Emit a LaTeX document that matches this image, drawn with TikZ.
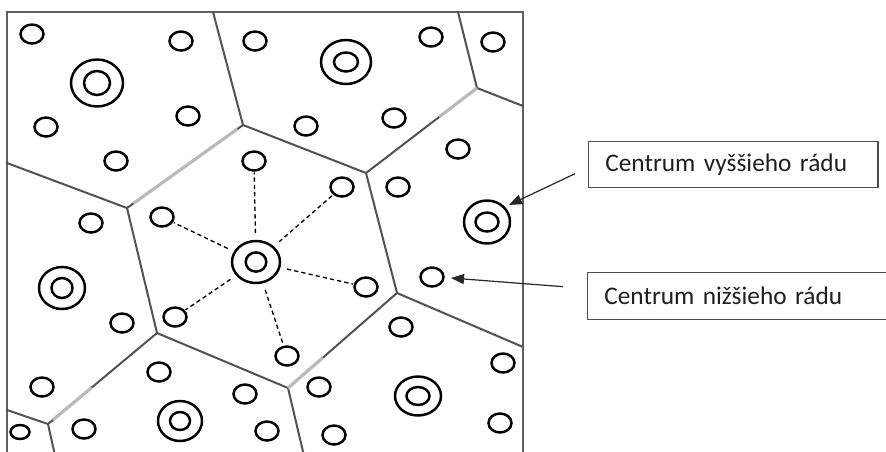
\documentclass[tikz,border=0pt]{standalone}
\usepackage{fontspec}
\setmainfont{Carlito}
\usetikzlibrary{shapes.geometric, arrows.meta, calc}

% a centre of higher order: two concentric rings
% #1 name, #2 position, #3/#4 outer radii, #5/#6 inner radii (px)
\newcommand\DoubleRing[6]{%
  \node[ring, minimum width=#3*1.5pt, minimum height=#4*1.5pt] (#1) at (#2) {};
  \node[ring, minimum width=#5*1.5pt, minimum height=#6*1.5pt] (#1-in) at (#2) {};}

\begin{document}
\begin{tikzpicture}[x=0.75pt, y=-0.75pt,
  ring/.style={ellipse, draw=black, line width=1.85pt, inner sep=0pt, outer sep=0pt},
  dot/.style={ring, minimum width=23*0.75pt, minimum height=19*0.75pt},
  cell/.style={draw=black!68, line width=1.5pt, line cap=round},
  faded/.style={draw=black!27, line width=2.4pt},
  spoke/.style={draw=black, line width=1pt, dash pattern=on 3.2pt off 2.3pt,
    shorten <=6pt, shorten >=1.5pt},
  frame/.style={draw=black!62, line width=1.6pt},
  label/.style={draw=black!70, line width=1pt, anchor=north west, inner xsep=12.5pt,
    inner ysep=0pt, align=left, font=\fontsize{19}{22}\selectfont, text=black!88},
  pointer/.style={draw=black!85, line width=0.9pt,
    -{Triangle[length=9.75pt, width=7.5pt]}}]

\useasboundingbox (0,0) rectangle (886,451);
\clip (0,0) rectangle (886,451);
\fill[white] (0,0) rectangle (886,451);

% outer frame
\draw[frame] (7,12) rectangle (523,470);

% cell boundaries
\coordinate (A) at (243,125);
\coordinate (B) at (366,173);
\coordinate (C) at (127,208);
\coordinate (D) at (157,333);
\coordinate (E) at (288,388);
\coordinate (F) at (48,424);
\coordinate (G) at (397,293);
\coordinate (H) at (477,88);
\coordinate (At) at (213,12);
\coordinate (Cl) at (7,163);
\coordinate (Fl) at (7,410);
\coordinate (Fb) at (56,460);
\coordinate (Eb) at (305,460);
\coordinate (Gr) at (523,347);
\coordinate (Ht) at (458,12);
\coordinate (Hr) at (523,106);

\draw[cell] (At) -- (A) -- (B) -- (G) -- (Gr);
\draw[cell] (Ht) -- (H) -- (Hr);
\draw[cell] (Cl) -- (C) -- (D) -- (E) -- (Eb);
\draw[cell] (Fl) -- (F) -- (Fb);
% partly faded edges
\draw[cell] (A) -- ($(A)!0.05!(C)$);
\draw[faded] ($(A)!0.05!(C)$) -- ($(A)!0.95!(C)$);
\draw[cell] ($(A)!0.95!(C)$) -- (C);
\draw[cell] (B) -- ($(B)!0.66!(H)$);
\draw[faded] ($(B)!0.66!(H)$) -- (H);
\draw[cell] (G) -- ($(G)!0.68!(E)$);
\draw[faded] ($(G)!0.68!(E)$) -- (E);
\draw[cell] (D) -- ($(D)!0.6!(F)$);
\draw[faded] ($(D)!0.6!(F)$) -- ($(D)!0.96!(F)$);
\draw[cell] ($(D)!0.96!(F)$) -- (F);

% centres of higher order
\DoubleRing{big1}{97,83}{26}{23.5}{13}{12}
\DoubleRing{big2}{346,62}{25}{22}{12}{9.5}
\DoubleRing{big3}{487,222}{23}{21.5}{11.5}{9.5}
\DoubleRing{big4}{62,288}{23}{21}{10.5}{10}
\DoubleRing{hub}{256,262}{24}{21}{10.3}{9.6}
\DoubleRing{big5}{180,421}{22}{20}{10}{9}
\DoubleRing{big6}{418,396}{23}{19.5}{11.5}{9}

% centres of lower order
\node[dot] (c1) at (32,34) {};
\node[dot] (c2) at (181,41) {};
\node[dot] (c3) at (255,41) {};
\node[dot] (c4) at (431,37) {};
\node[dot] (c5) at (493,42) {};
\node[dot] (c6) at (46,127) {};
\node[dot] (c7) at (188,116) {};
\node[dot] (c8) at (306,126) {};
\node[dot] (c9) at (394,118) {};
\node[dot] (c10) at (116,161) {};
\node[dot] (c11) at (458,149) {};
\node[dot] (c12) at (398,187) {};
\node[dot] (c13) at (91,223) {};
\node[dot] (c14) at (432,277) {};
\node[dot] (c15) at (122,323) {};
\node[dot] (c16) at (401,327) {};
\node[dot] (c17) at (159,372) {};
\node[dot] (c18) at (42,387) {};
\node[dot] (c19) at (245,394) {};
\node[dot] (c20) at (319,387) {};
\node[dot] (c21) at (503,363) {};
\node[ring, minimum width=19*0.75pt, minimum height=14*0.75pt] (c22) at (20,432) {};
\node[dot] (c23) at (84,429) {};
\node[dot] (c24) at (267,431) {};
\node[dot] (c25) at (334,435) {};
\node[dot] (c26) at (500,423) {};

% satellites of the central place
\node[dot] (s1) at (254,161) {};
\node[dot] (s2) at (342,187) {};
\node[dot] (s3) at (162,217) {};
\node[dot] (s4) at (366,287) {};
\node[dot] (s5) at (175,317) {};
\node[dot] (s6) at (287,356) {};
\foreach \s in {s1,s2,s3,s4,s5,s6}
  \draw[spoke] (hub) -- (\s);

% legend
\node[label, minimum height=46*0.75pt, text width=192pt] (hi) at (588,141)
  {Centrum vyššieho rádu};
\node[label, minimum height=47*0.75pt, text width=220pt] (lo) at (587,272)
  {Centrum nižšieho rádu};

\coordinate (hiTail) at ([shift={(-13,9)}]hi.west);
\coordinate (hiTip) at ([shift={(22,-17)}]big3.center);
\draw[pointer] (hiTail) -- (hiTip);
\coordinate (loTail) at ([shift={(-24,-9.5)}]lo.west);
\coordinate (loTip) at ([shift={(19,1)}]c14.center);
\draw[pointer] (loTail) -- (loTip);
\end{tikzpicture}
\end{document}
